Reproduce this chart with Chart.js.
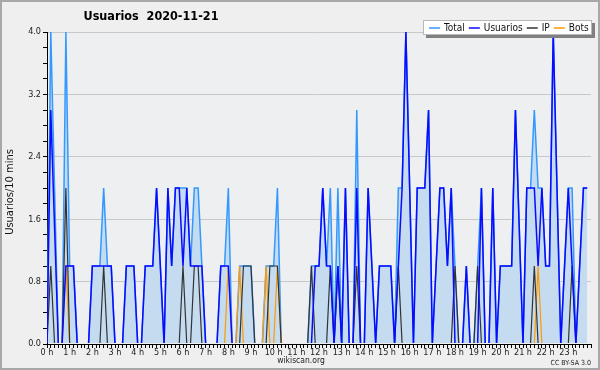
<!DOCTYPE html>
<html>
<head>
<meta charset="utf-8">
<script src="https://cdn.jsdelivr.net/npm/chart.js@4.4.0/dist/chart.umd.min.js"></script>
<style>
  html, body { margin: 0; padding: 0; background: #efefef; }
  #wrap { width: 600px; height: 370px; }
</style>
</head>
<body>
<div id="wrap"><canvas id="myChart" width="600" height="370"></canvas></div>
<script>

// --- data : one value every 10 mins, 144 slots for the day ---
const hourLabels = ['0 h','1 h','2 h','3 h','4 h','5 h','6 h','7 h','8 h','9 h','10 h','11 h',
                    '12 h','13 h','14 h','15 h','16 h','17 h','18 h','19 h','20 h','21 h','22 h','23 h'];

const yTickLabels = ['0.0', '0.8', '1.6', '2.4', '3.2', '4.0'];

const total = [
  0,4,2,0,0,4,1,1,0,0,0,0,
  1,1,1,2,1,1,0,0,0,1,1,1,
  0,0,1,1,1,2,1,0,2,1,2,2,
  2,2,1,2,2,1,0,0,0,0,1,1,
  2,0,0,1,1,1,1,0,0,0,1,1,
  1,2,0,0,0,0,0,0,0,0,1,1,
  1,2,1,2,0,2,0,2,0,0,3,0,
  0,2,1,0,1,1,1,1,0,2,2,4,
  2,0,2,2,2,3,0,1,2,2,1,2,
  1,0,0,1,0,0,1,2,0,0,2,0,
  1,1,1,1,3,1.5,0,2,2,3,2,2,
  1,1,4,2,0,1,2,2,0,1,2,2
];

const usuarios = [
  0,3,1.5,0,0,1,1,1,0,0,0,0,
  1,1,1,1,1,1,0,0,0,1,1,1,
  0,0,1,1,1,2,1,0,2,1,2,2,
  1,2,1,1,1,1,0,0,0,0,1,1,
  1,0,0,0,0,0,0,0,0,0,0,0,
  0,0,0,0,0,0,0,0,0,0,0,1,
  1,2,1,1,0,1,0,2,0,0,2,0,
  0,2,1,0,1,1,1,1,0,1,2,4,
  2,0,2,2,2,3,0,1,2,2,1,2,
  0,0,0,1,0,0,0,2,0,0,2,0,
  1,1,1,1,3,1.5,0,2,2,2,1,2,
  1,1,4,2,0,1,2,1,0,1,2,2
];

const ip = [
  0,1,0,0,0,2,0,0,0,0,0,0,
  0,0,0,1,0,0,0,0,0,0,0,0,
  0,0,0,0,0,0,0,0,0,0,0,0,
  1,0,0,1,1,0,0,0,0,0,0,0,
  0,0,0,0,1,1,1,0,0,0,0,1,
  1,1,0,0,0,0,0,0,0,0,1,0,
  0,0,0,1,0,1,0,0,0,0,1,0,
  0,0,0,0,0,0,0,0,0,1,0,0,
  0,0,0,0,0,0,0,0,0,0,0,0,
  1,0,0,0,0,0,1,0,0,0,0,0,
  0,0,0,0,0,0,0,0,0,1,0,0,
  0,0,0,0,0,0,0,1,0,0,0,0
];

const bots = [
  0,0,0,0,0,1,0,0,0,0,0,0,
  0,0,0,0,0,0,0,0,0,0,0,0,
  0,0,0,0,0,0,0,0,0,0,0,0,
  0,0,0,0,0,0,0,0,0,0,0,0,
  1,0,0,1,0,0,0,0,0,0,1,0,
  0,1,0,0,0,0,0,0,0,0,0,0,
  0,0,0,0,0,0,0,0,0,0,0,0,
  0,0,0,0,0,0,0,0,0,0,0,0,
  0,0,0,0,0,0,0,0,0,0,0,0,
  0,0,0,0,0,0,0,0,0,0,0,0,
  0,0,0,0,0,0,0,0,0,0,1,0,
  0,0,0,0,0,0,0,0,0,0,0,0
];

const series = [
  { label: 'Total',    color: '#3399ff' },
  { label: 'Usuarios', color: '#0a0aff' },
  { label: 'IP',       color: '#333333' },
  { label: 'Bots',     color: '#ff9900' }
];

const FONT = "'DejaVu Sans Condensed', 'DejaVu Sans', sans-serif";

// lines are cut one pixel above the x axis, like the original
const CLIP = { left: 0, top: 0, right: 0, bottom: -1 };

function points(values) {
  return values.map((v, i) => ({ x: i, y: v }));
}

function isMajor(v) {
  return Math.abs(v / 0.8 - Math.round(v / 0.8)) < 1e-6;
}

// background, frame, title, legend, footer
const decor = {
  id: 'decor',
  beforeDraw(chart) {
    const c = chart.ctx, a = chart.chartArea;
    c.save();
    c.fillStyle = '#efefef';
    c.fillRect(0, 0, chart.width, chart.height);
    c.fillStyle = '#eeeff1';
    c.fillRect(a.left, a.top, a.right - a.left, a.bottom - a.top);
    c.restore();
  },
  afterDraw(chart) {
    const c = chart.ctx;
    c.save();

    // frame
    c.strokeStyle = '#a8a8a8';
    c.lineWidth = 2;
    c.strokeRect(1, 1, chart.width - 2, chart.height - 2);

    // title
    c.fillStyle = '#000';
    c.font = "bold 12.5px " + FONT;
    c.textAlign = 'center';
    c.textBaseline = 'middle';
    c.fillText('Usuarios  2020-11-21', 151, 17);

    // y axis title
    c.save();
    c.translate(10, 192);
    c.rotate(-Math.PI / 2);
    c.font = "11px " + FONT;
    c.fillStyle = '#111';
    c.fillText('Usuarios/10 mins', 0, 0);
    c.restore();

    // legend box
    const bx = 423, by = 20, bw = 169, bh = 15;
    c.fillStyle = '#808080';
    c.fillRect(bx + 3, by + 3, bw, bh);
    c.fillStyle = '#ffffff';
    c.fillRect(bx, by, bw, bh);
    c.strokeStyle = '#b8b8b8';
    c.lineWidth = 1;
    c.strokeRect(bx + 0.5, by + 0.5, bw - 1, bh - 1);

    c.font = "10px " + FONT;
    c.textAlign = 'left';
    let lx = bx + 6;
    const ly = by + bh / 2 + 0.5;
    for (let s of series) {
      c.strokeStyle = s.color;
      c.lineWidth = 1.5;
      c.beginPath();
      c.moveTo(lx, ly);
      c.lineTo(lx + 11, ly);
      c.stroke();
      c.fillStyle = '#111';
      c.fillText(s.label, lx + 15, ly);
      lx += 15 + c.measureText(s.label).width + 4;
    }

    // footer
    c.textAlign = 'center';
    c.font = "8.5px " + FONT;
    c.fillStyle = '#222';
    c.fillText('wikiscan.org', 301, 361);
    c.textAlign = 'right';
    c.font = "7px " + FONT;
    c.fillText('CC BY-SA 3.0', 591, 363);

    c.restore();
  }
};

let ctx = document.getElementById('myChart');

const myChart = new Chart(ctx, {
  type: 'line',
  data: {
    datasets: [{
      label: series[0].label,
      data: points(total),
      borderColor: series[0].color,
      backgroundColor: '#c5dcf0',
      fill: 'origin',
      borderWidth: 1.5,
      clip: CLIP,
      order: 3
    }, {
      label: series[1].label,
      data: points(usuarios),
      borderColor: series[1].color,
      borderWidth: 1.5,
      fill: false,
      clip: CLIP,
      order: 0
    }, {
      label: series[2].label,
      data: points(ip),
      borderColor: series[2].color,
      borderWidth: 1.2,
      fill: false,
      clip: CLIP,
      order: 1
    }, {
      label: series[3].label,
      data: points(bots),
      borderColor: series[3].color,
      borderWidth: 1.2,
      fill: false,
      clip: CLIP,
      order: 2
    }]
  },
  options: {
    responsive: false,
    animation: false,
    devicePixelRatio: 1,
    layout: { padding: { top: 32, left: 0, right: 9, bottom: 12 } },
    elements: {
      point: { radius: 0 },
      line: { tension: 0 }
    },
    plugins: {
      legend: { display: false },
      title: { display: false },
      tooltip: { enabled: false },
      filler: { drawTime: 'beforeDatasetsDraw' }
    },
    scales: {
      x: {
        type: 'linear',
        min: 0,
        max: 144,
        z: 1,
        grid: { drawOnChartArea: false, tickLength: 4, tickColor: '#000' },
        border: { color: '#000', width: 1 },
        ticks: {
          stepSize: 1,
          autoSkip: false,
          maxRotation: 0,
          padding: -1,
          color: '#222',
          font: { family: FONT, size: 9 },
          callback: (v) => (v % 6 === 0 && v < 144) ? hourLabels[v / 6] : ''
        },
        afterFit: (s) => { s.height = 14; }
      },
      y: {
        min: 0,
        max: 4,
        grid: {
          color: (c) => (c.tick && isMajor(c.tick.value)) ? '#c8c8c8' : 'rgba(0,0,0,0)',
          tickColor: '#000',
          tickLength: 4
        },
        border: { color: '#000', width: 1 },
        ticks: {
          stepSize: 0.2,
          autoSkip: false,
          padding: 2,
          color: '#222',
          font: { family: FONT, size: 9 },
          callback: (v) => isMajor(v) ? yTickLabels[Math.round(v / 0.8)] : ''
        },
        afterFit: (s) => { s.width = 47; }
      }
    }
  },
  plugins: [decor]
});
</script>
</body>
</html>
